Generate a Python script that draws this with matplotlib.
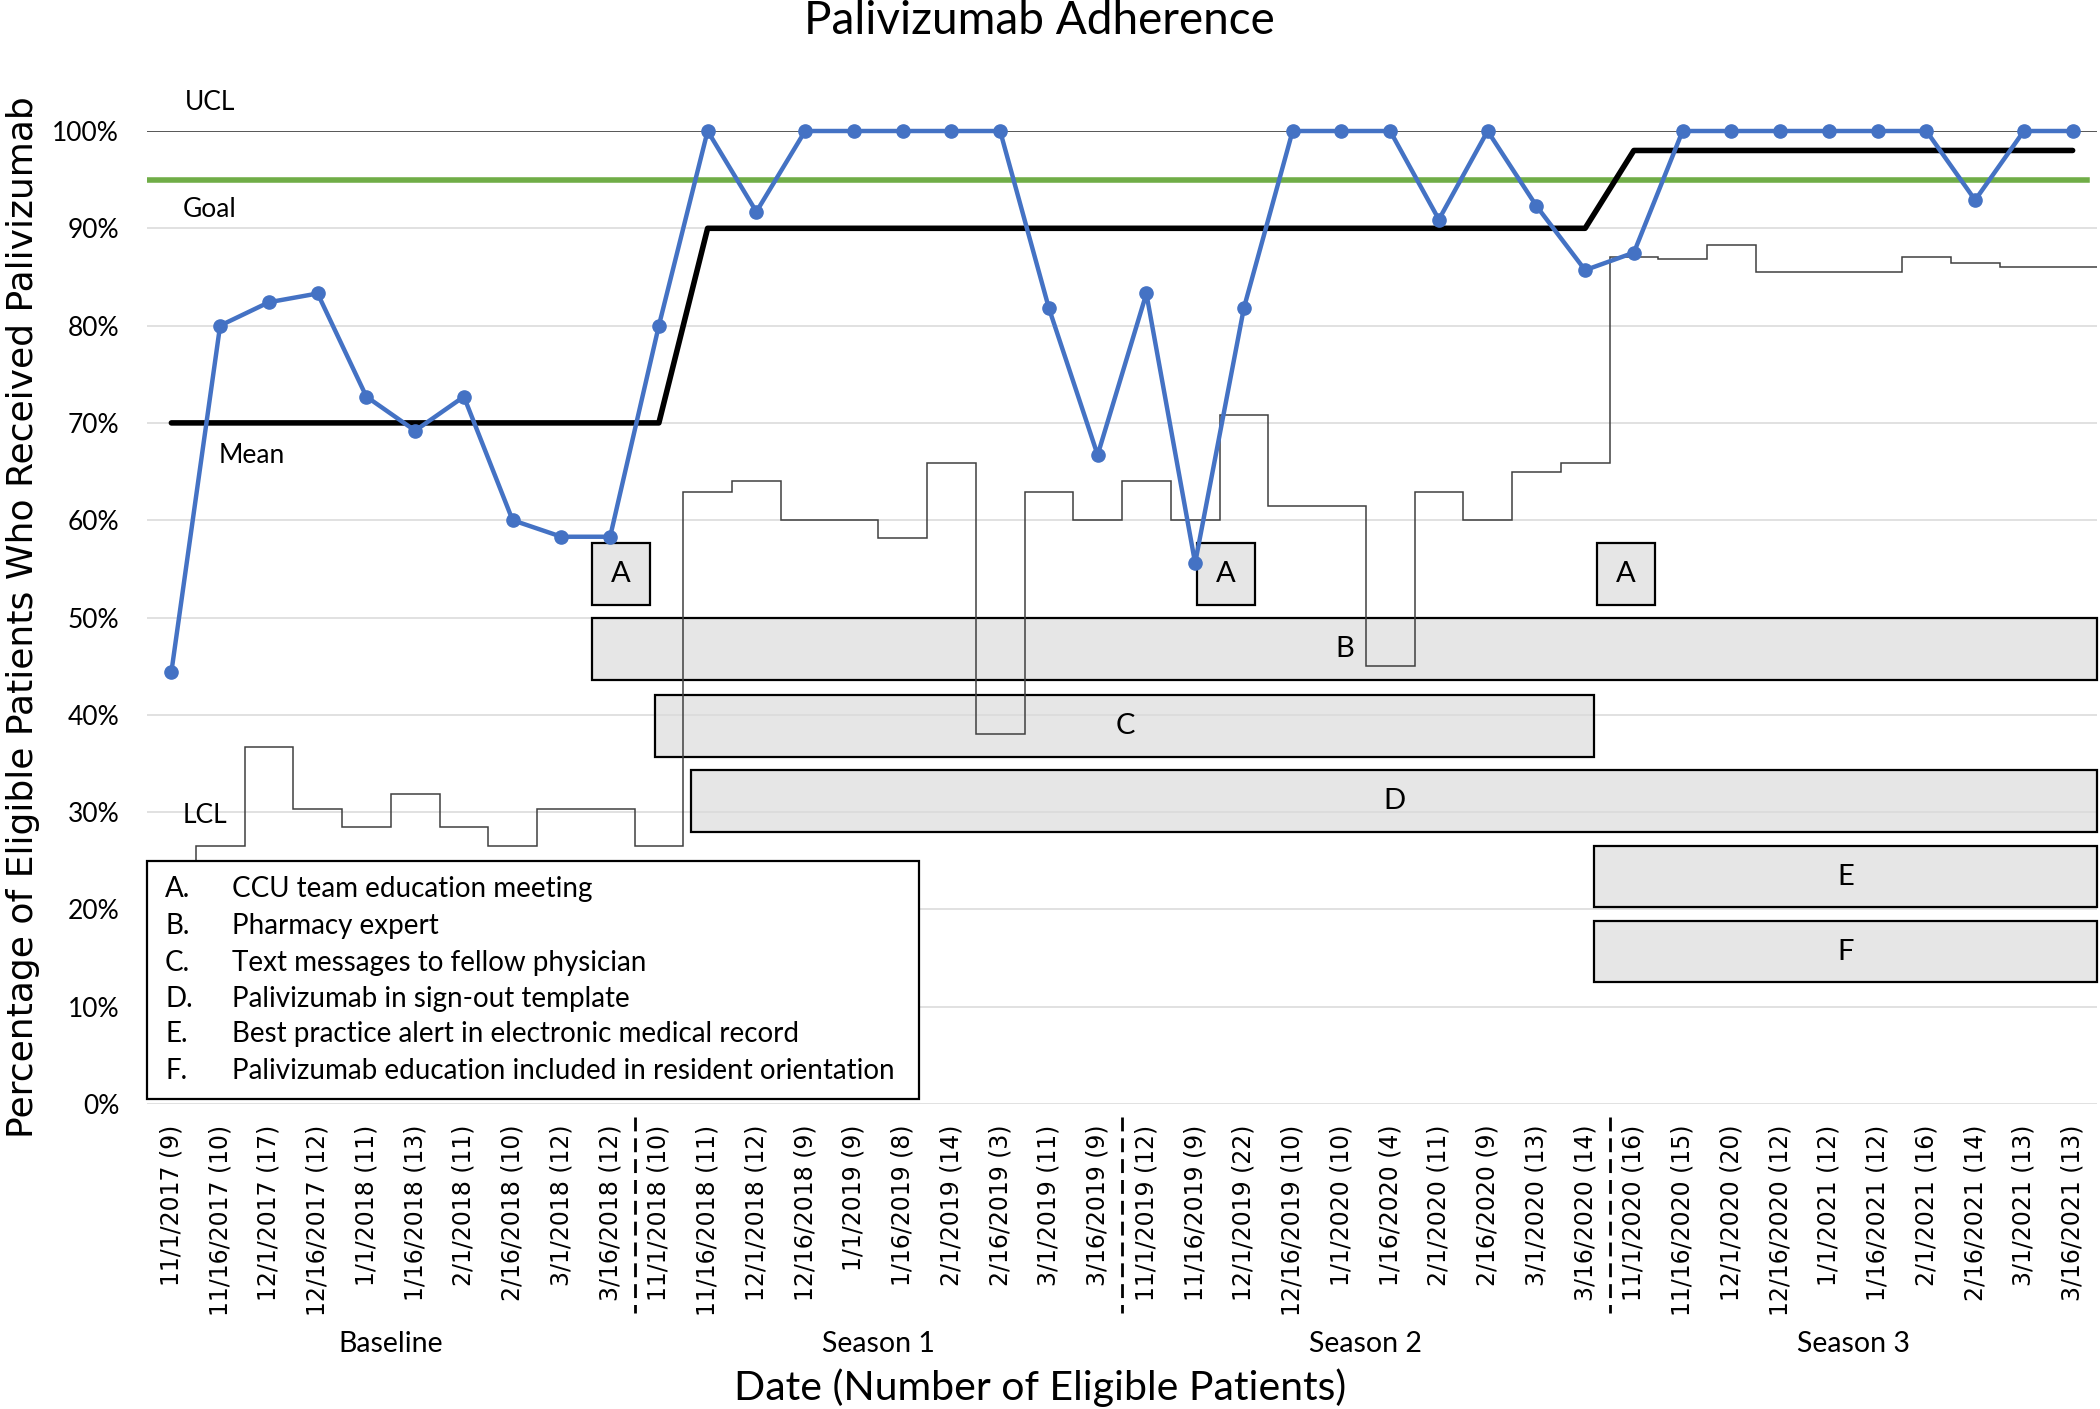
import numpy as np
import matplotlib.pyplot as plt

# data
dates = ["11/1/2017", "11/16/2017", "12/1/2017", "12/16/2017", "1/1/2018", "1/16/2018", "2/1/2018", "2/16/2018", "3/1/2018", "3/16/2018",
         "11/1/2018", "11/16/2018", "12/1/2018", "12/16/2018", "1/1/2019", "1/16/2019", "2/1/2019", "2/16/2019", "3/1/2019", "3/16/2019",
         "11/1/2019", "11/16/2019", "12/1/2019", "12/16/2019", "1/1/2020", "1/16/2020", "2/1/2020", "2/16/2020", "3/1/2020", "3/16/2020",
         "11/1/2020", "11/16/2020", "12/1/2020", "12/16/2020", "1/1/2021", "1/16/2021", "2/1/2021", "2/16/2021", "3/1/2021", "3/16/2021"]
patients = [9, 10, 17, 12, 11, 13, 11, 10, 12, 12,
            10, 11, 12, 9, 9, 8, 14, 3, 11, 9,
            12, 9, 22, 10, 10, 4, 11, 9, 13, 14,
            16, 15, 20, 12, 12, 12, 16, 14, 13, 13]
adherence = [44.4, 80.0, 82.4, 83.3, 72.7, 69.2, 72.7, 60.0, 58.3, 58.3,
             80.0, 100, 91.7, 100, 100, 100, 100, 100, 81.8, 66.7,
             83.3, 55.6, 81.8, 100, 100, 100, 90.9, 100, 92.3, 85.7,
             87.5, 100, 100, 100, 100, 100, 100, 92.9, 100, 100]
mean_line = [70, 70, 70, 70, 70, 70, 70, 70, 70, 70,
             70, 90, 90, 90, 90, 90, 90, 90, 90, 90,
             90, 90, 90, 90, 90, 90, 90, 90, 90, 90,
             98, 98, 98, 98, 98, 98, 98, 98, 98, 98]
lcl = [24.2, 26.5, 36.7, 30.3, 28.5, 31.9, 28.5, 26.5, 30.3, 30.3,
       26.5, 62.9, 64.0, 60.0, 60.0, 58.2, 65.9, 38.0, 62.9, 60.0,
       64.0, 60.0, 70.8, 61.5, 61.5, 45.0, 62.9, 60.0, 65.0, 65.9,
       87.1, 86.8, 88.3, 85.5, 85.5, 85.5, 87.1, 86.4, 86.0, 86.0]
ucl = 100
goal = 95
groups = ["Baseline", "Season 1", "Season 2", "Season 3"]

legend_keys = ["A.", "B.", "C.", "D.", "E.", "F."]
legend_items = ["CCU team education meeting", "Pharmacy expert", "Text messages to fellow physician",
                "Palivizumab in sign-out template", "Best practice alert in electronic medical record",
                "Palivizumab education included in resident orientation"]

# intervention boxes (category units / percent)
box_labels = ["A", "A", "A", "B", "C", "D", "E", "F"]
box_x0 = [8.63, 21.04, 29.24, 8.63, 9.93, 10.66, 29.19, 29.19]
box_x1 = [9.82, 22.23, 30.43, 39.5, 29.19, 39.5, 39.5, 39.5]
box_y0 = [51.3, 51.3, 51.3, 43.6, 35.7, 28.0, 20.2, 12.5]
box_y1 = [57.7, 57.7, 57.7, 50.0, 42.0, 34.3, 26.5, 18.8]

W, H = 2100, 1409
fig = plt.figure(figsize=(W / 100, H / 100), dpi=100)
ax = fig.add_axes([147 / W, 1 - 1104 / H, 1950 / W, 973 / H])

x = np.arange(len(dates))
ax.set_xlim(-0.5, len(dates) - 0.5)
ax.set_ylim(0, 100)

# grid
ax.set_yticks(range(0, 101, 10))
ax.set_yticklabels(["{}%".format(v) for v in range(0, 101, 10)], fontfamily="Lato", fontsize=19)
ax.yaxis.grid(True, color="#D9D9D9", lw=1.1)
ax.set_axisbelow(True)
for s in ax.spines.values():
    s.set_visible(False)
ax.tick_params(axis="y", length=0, pad=20)

ax.set_xticks(x)
ax.set_xticklabels(["{} ({})".format(d, n) for d, n in zip(dates, patients)],
                   rotation=90, fontfamily="DejaVu Sans", fontsize=17)
ax.tick_params(axis="x", length=0, pad=15)

# intervention boxes: fill under the grid, outline above it
for i in range(len(box_labels)):
    xy = (box_x0[i], box_y0[i])
    bw = box_x1[i] - box_x0[i]
    bh = box_y1[i] - box_y0[i]
    ax.add_patch(plt.Rectangle(xy, bw, bh, fc="#E6E6E6", ec="none", zorder=0.3, clip_on=False))
    ax.add_patch(plt.Rectangle(xy, bw, bh, fc="none", ec="black", lw=1.6, zorder=1, clip_on=False))
    ax.text((box_x0[i] + box_x1[i]) / 2, (box_y0[i] + box_y1[i]) / 2, box_labels[i],
            ha="center", va="center", fontfamily="Lato", fontsize=21, zorder=3)

# control lines
ax.axhline(ucl, color="#404040", lw=1.2, zorder=2)
ax.axhline(goal, xmax=0.995, color="#70AD47", lw=4, zorder=2)
ax.stairs(lcl, np.arange(len(lcl) + 1) - 0.5, color="#404040", lw=1.1, zorder=2, baseline=None)
ax.plot(x, mean_line, color="black", lw=4, solid_capstyle="round", zorder=3, clip_on=False)
ax.plot(x, adherence, color="#4472C4", lw=3.2, marker="o", markersize=9.5, zorder=4, clip_on=False)

ax.text(0.79, 102.9, "UCL", ha="center", va="center", fontfamily="Lato", fontsize=19, clip_on=False)
ax.text(0.79, 91.9, "Goal", ha="center", va="center", fontfamily="Lato", fontsize=19)
ax.text(1.65, 66.7, "Mean", ha="center", va="center", fontfamily="Lato", fontsize=19)
ax.text(0.69, 29.6, "LCL", ha="center", va="center", fontfamily="Lato", fontsize=19)

# legend box
ax.add_patch(plt.Rectangle((-0.5, 0.5), 15.84, 24.5, fc="white", ec="black", lw=1.6, zorder=6, clip_on=False))
leg_y = [22.05, 18.3, 14.5, 10.8, 7.2, 3.4]
for k in range(len(legend_keys)):
    ax.text(-0.13, leg_y[k], legend_keys[k], va="center", fontfamily="Lato", fontsize=20, zorder=7)
    ax.text(1.24, leg_y[k], legend_items[k], va="center", fontfamily="Lato", fontsize=20, zorder=7)

# group separators and labels
per = len(dates) // len(groups)
tr = ax.get_xaxis_transform()
for g in range(len(groups)):
    ax.text(g * per + (per - 1) / 2, -0.2549, groups[g], transform=tr, ha="center", va="baseline",
            fontfamily="Lato", fontsize=20.5)
    if g > 0:
        b = g * per - 0.5
        ax.plot([b, b], [-0.0134, -0.215], transform=tr, clip_on=False, color="black", lw=2,
                ls=(0, (5, 2.5)))

fig.text(0.495, 1 - 34 / H, "Palivizumab Adherence", ha="center", va="baseline", fontfamily="Lato", fontsize=33)
fig.text(1040 / W, 1 - 1400 / H, "Date (Number of Eligible Patients)", ha="center", va="baseline",
         fontfamily="Lato", fontsize=29.5)
fig.text(33 / W, 1 - 617 / H, "Percentage of Eligible Patients Who Received Palivizumab", rotation=90,
         rotation_mode="anchor", ha="center", va="baseline", fontfamily="DejaVu Sans", fontsize=26)

fig.savefig("out.png", dpi=100)
